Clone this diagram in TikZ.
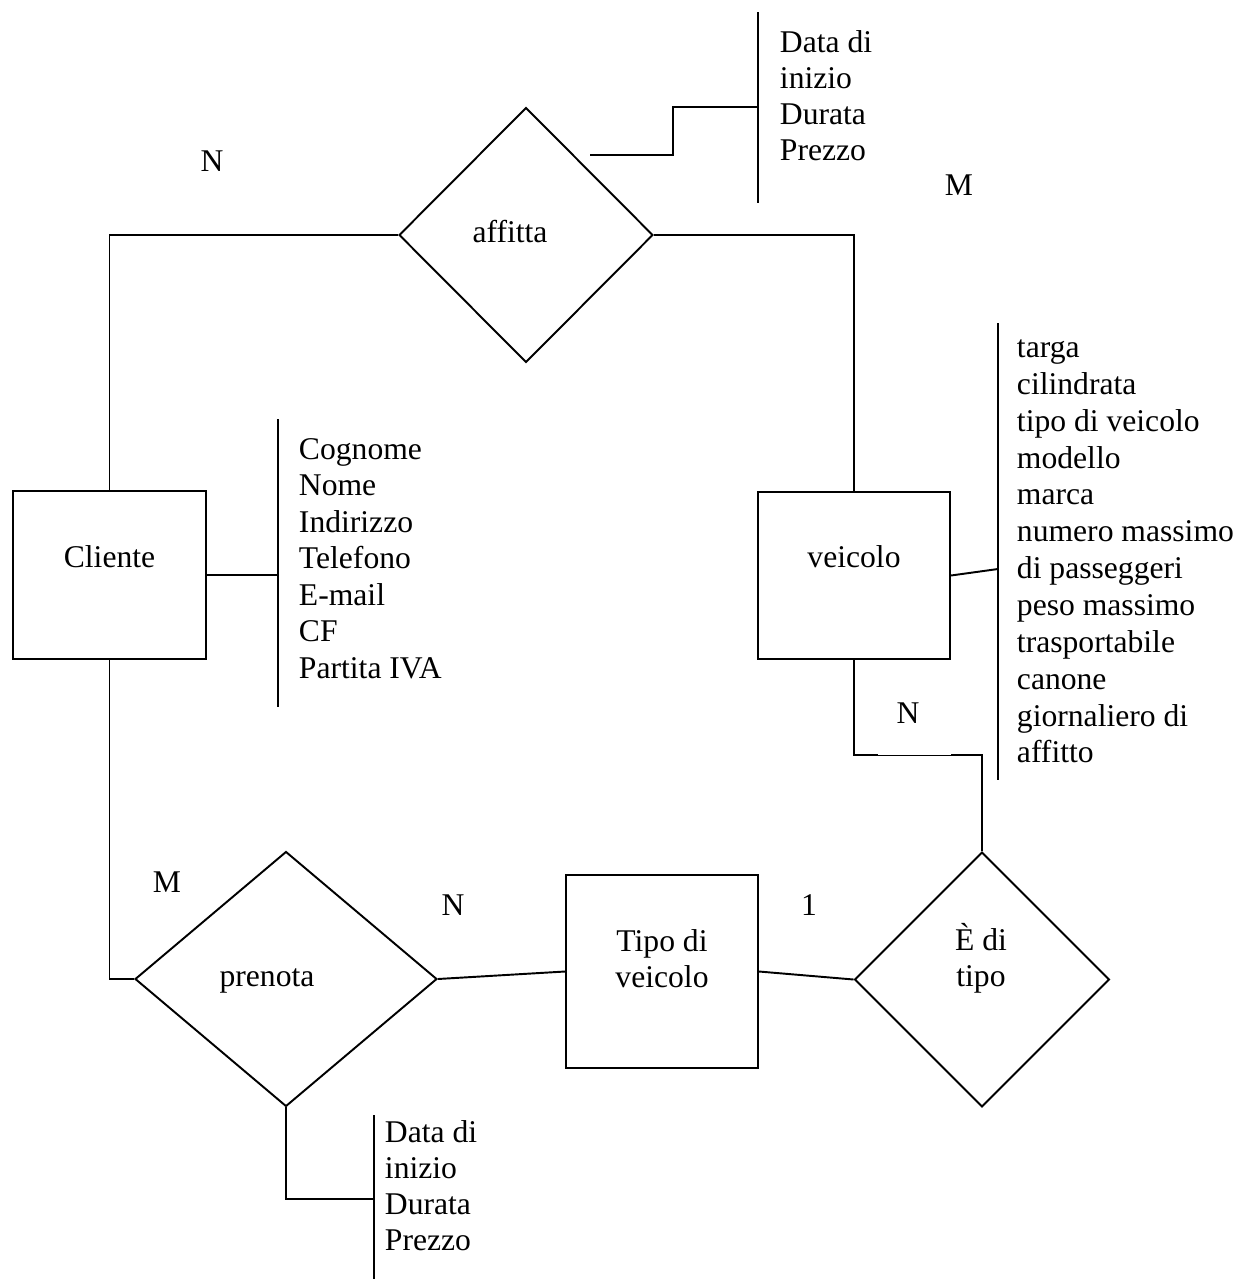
\documentclass[tikz,border=0pt]{standalone}
\usepackage{fontspec}
\setmainfont{Liberation Serif}
\usetikzlibrary{shapes.geometric}
\begin{document}
\begin{tikzpicture}[x=0.02cm, y=-0.02cm, line width=1.1pt, line join=miter,
	font=\fontsize{18}{20.5}\selectfont,
	entita/.style={draw, rectangle, inner sep=0pt},
	relaz/.style={draw, diamond, inner sep=0pt},
	testo/.style={inner sep=0pt, align=center},
	attr/.style={inner sep=0pt, anchor=base west},
	card/.style={inner sep=0pt}]
	\useasboundingbox (0,0) rectangle (1247,1279);
	% entita e relazioni
	\node[entita, minimum width=3.86cm, minimum height=3.36cm] (cliente) at (109.5,575) {};
	\node[entita, minimum width=3.84cm, minimum height=3.34cm] (veicolo) at (854,575.5) {};
	\node[entita, minimum width=3.84cm, minimum height=3.86cm] (tipo) at (662,971.5) {};
	\node[relaz, minimum width=5.08cm, minimum height=5.1cm] (affitta) at (526,235) {};
	\node[relaz, minimum width=6.04cm, minimum height=5.1cm] (prenota) at (286,979) {};
	\node[relaz, minimum width=5.1cm, minimum height=5.1cm] (edi) at (982,979.5) {};
	\node[testo] (t-cliente) at (cliente.center) [yshift=0.36cm] {Cliente};
	\node[testo] (t-veicolo) at (854,557) {veicolo};
	\node[testo] (t-tipo) at (662,959) {Tipo di\\veicolo};
	\node[testo] (t-affitta) at (510,232) {affitta};
	\node[testo] (t-prenota) at (267,981) {prenota};
	\node[testo] (t-edi) at (981,958) {È di\\tipo};
	% cardinalita
	\node[card] (n-aff) at (212,161) {N};
	\node[card] (m-aff) at (959,185) {M};
	\node[card] (n-vei) at (908,713) {N};
	\node[card] (m-pre) at (167,882) {M};
	\node[card] (n-pre) at (453,905) {N};
	\node[card] (uno) at (809,905) {1};
	% collegamenti
	\draw (affitta.west) -| (cliente.north);
	\draw (affitta.east) -| (veicolo.north);
	\draw (cliente.south) |- (prenota.west);
	\draw (prenota.east) -- (tipo.west);
	\draw (tipo.east) -- (edi.west);
	\coordinate (k1) at (878,755); \coordinate (k2) at (951,755);
	\draw (veicolo.south) |- (k1);
	\draw[line width=0.5pt] (k1) -- (k2);
	\draw (k2) -| (edi.north);
	% attributi
	\coordinate (a1) at (590,155);
	\coordinate (barA-j) at (758,107);
	\draw (758,12) -- (758,203);
	\draw (a1) -- ++(83,0) |- (barA-j);
	\foreach \t [count=\i from 0] in {Data di,inizio,Durata,Prezzo}
		\node[attr] (aff-\i) at (779,{52+36.3*\i}) {\t};
	\coordinate (barC-j) at (278,575);
	\draw (278,419) -- (278,707);
	\draw (cliente.east) -- (barC-j);
	\foreach \t [count=\i from 0] in {Cognome,Nome,Indirizzo,Telefono,E-mail,CF,Partita IVA}
		\node[attr] (cli-\i) at (298,{459+36.5*\i}) {\t};
	\coordinate (barV-j) at (998,569);
	\draw (998,323) -- (998,780);
	\draw (veicolo.east) -- (barV-j);
	\foreach \t [count=\i from 0] in {targa,cilindrata,tipo di veicolo,modello,marca,numero massimo,di passeggeri,peso massimo,trasportabile,canone,giornaliero di,affitto}
		\node[attr] (vei-\i) at (1016,{357.5+36.85*\i}) {\t};
	\coordinate (barP-j) at (374,1199);
	\draw (374,1115) -- (374,1279);
	\draw (prenota.south) |- (barP-j);
	\foreach \t [count=\i from 0] in {Data di,inizio,Durata,Prezzo}
		\node[attr] (pre-\i) at (384,{1142+36*\i}) {\t};
\end{tikzpicture}
\end{document}
